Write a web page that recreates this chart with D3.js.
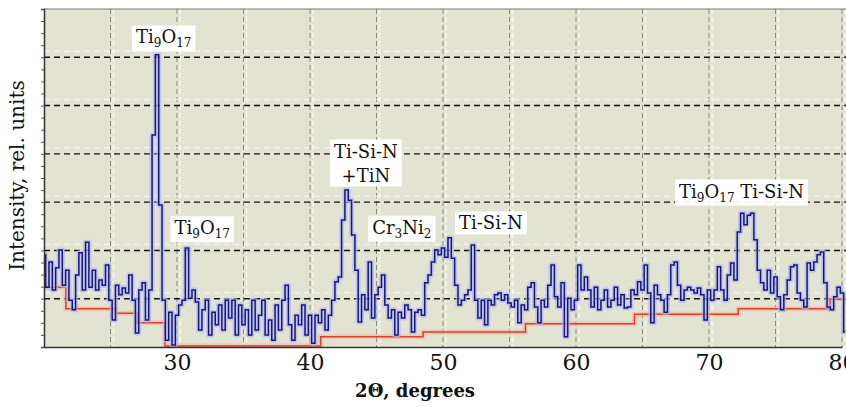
<!DOCTYPE html>
<html lang="en">
<head>
<meta charset="utf-8">
<title>XRD pattern</title>
<script src="https://cdn.jsdelivr.net/npm/d3@7"></script>
<style>
  body { margin: 0; background: #fff; }
  text { font-family: "DejaVu Serif", serif; fill: #111; }
</style>
</head>
<body>
<div id="chart"></div>
<script>
// scan: 2theta from 20 deg, step 0.25 deg
var angleStart = 20, angleStep = 0.25;
var intensity = [
  191, 124, 176, 118, 164, 201, 128, 159, 97, 77,
  149, 195, 118, 217, 124, 159, 118, 139, 128, 170,
  97, 56, 128, 108, 122, 112, 149, 97, 29, 118,
  133, 56, 118, 439, 605, 294, 97, 14, 72, 4,
  66, 87, 97, 205, 101, 118, 93, 35, 77, 97,
  25, 72, 46, 87, 35, 97, 60, 97, 25, 87,
  46, 77, 25, 97, 35, 66, 97, 25, 56, 14,
  87, 35, 97, 128, 46, 14, 66, 46, 87, 25,
  66, 8, 66, 50, 77, 35, 66, 97, 135, 145,
  263, 325, 304, 232, 159, 52, 108, 77, 176, 60,
  108, 124, 149, 87, 60, 77, 25, 72, 60, 87,
  77, 31, 72, 77, 66, 133, 149, 176, 201, 191,
  205, 186, 226, 184, 128, 87, 97, 108, 118, 211,
  97, 60, 97, 46, 97, 87, 108, 112, 97, 108,
  91, 83, 97, 50, 87, 77, 124, 133, 83, 50,
  97, 83, 128, 170, 104, 83, 133, 21, 101, 77,
  97, 170, 118, 145, 118, 83, 124, 77, 97, 118,
  83, 97, 124, 87, 108, 81, 83, 118, 108, 135,
  118, 170, 112, 50, 128, 108, 97, 72, 108, 170,
  176, 128, 97, 118, 124, 118, 112, 122, 108, 56,
  118, 97, 118, 166, 118, 97, 149, 174, 139, 238,
  277, 253, 273, 277, 222, 159, 133, 118, 159, 112,
  145, 104, 77, 108, 139, 166, 170, 112, 97, 83,
  174, 159, 176, 191, 197, 133, 83, 77, 104, 124,
  112, 31
];

// background (red) step level
var bgStart = [20, 21.65, 25.4, 27.0, 29.1, 40.8, 48.5, 56.2, 64.4, 72.2, 79.1, 80.6];
var bgLevel = [124, 79, 70, 50, 2, 21, 31, 48, 68, 79, 99, 99];

var xTicks = [30, 40, 50, 60, 70, 80];
var gridX = [25, 30, 35, 40, 45, 50, 55, 60, 65, 70, 75, 80];
var gridY = [100, 200, 300, 400, 500, 600];

// peak labels: [text, subscript] parts per line, anchored at (2theta, intensity)
var labelParts = [
  [[["Ti", 0], ["9", 1], ["O", 0], ["17", 1]]],
  [[["Ti", 0], ["9", 1], ["O", 0], ["17", 1]]],
  [[["Ti-Si-N", 0]], [["+TiN", 0]]],
  [[["Cr", 0], ["3", 1], ["Ni", 0], ["2", 1]]],
  [[["Ti-Si-N", 0]]],
  [[["Ti", 0], ["9", 1], ["O", 0], ["17", 1], [" Ti-Si-N", 0]]]
];
var labelAngle = [29.0, 31.9, 44.2, 46.9, 53.6, 72.45];
var labelLevel = [641, 246, 380, 247, 256, 322];

var W = 846, H = 407;
var margin = { top: 9, right: 0, bottom: 60, left: 44 };

var svg = d3.select("#chart").append("svg")
  .attr("width", W).attr("height", H);

var x = d3.scaleLinear().domain([20, 80]).range([margin.left, 842]);
var y = d3.scaleLinear().domain([0, 700]).range([H - margin.bottom, margin.top]);

var plotW = W - margin.left, plotH = y(0) - margin.top;

svg.append("defs").append("clipPath").attr("id", "plot")
  .append("rect").attr("x", margin.left).attr("y", margin.top)
  .attr("width", plotW).attr("height", plotH);

// plot background
svg.append("rect")
  .attr("x", margin.left).attr("y", margin.top)
  .attr("width", plotW).attr("height", plotH)
  .attr("fill", "#e2e3d1");

var grid = svg.append("g").attr("clip-path", "url(#plot)");

// vertical grid: grey dashes with a white twin
grid.selectAll(".vw").data(gridX).enter().append("line")
  .attr("x1", d => x(d) + 3).attr("x2", d => x(d) + 3)
  .attr("y1", margin.top).attr("y2", y(0))
  .attr("stroke", "#fafaf2").attr("stroke-width", 1.5)
  .attr("stroke-dasharray", "5,3");
grid.selectAll(".vg").data(gridX).enter().append("line")
  .attr("x1", d => x(d)).attr("x2", d => x(d))
  .attr("y1", margin.top).attr("y2", y(0))
  .attr("stroke", "#8a8a80").attr("stroke-width", 1)
  .attr("stroke-dasharray", "5,3");

// horizontal grid: black dashes with a white twin
grid.selectAll(".hw").data(gridY).enter().append("line")
  .attr("x1", margin.left).attr("x2", W)
  .attr("y1", d => y(d) - 6).attr("y2", d => y(d) - 6)
  .attr("stroke", "#fafaf2").attr("stroke-width", 1.5).attr("opacity", 0.7)
  .attr("stroke-dasharray", "6,4");
grid.selectAll(".hg").data(gridY).enter().append("line")
  .attr("x1", margin.left).attr("x2", W)
  .attr("y1", d => y(d)).attr("y2", d => y(d))
  .attr("stroke", "#111").attr("stroke-width", 1.4)
  .attr("stroke-dasharray", "6,4");

var series = intensity.map((v, i) => [angleStart + i * angleStep, v]);
var bg = bgStart.map((a, i) => [a, bgLevel[i]]);

var lineStep = d3.line().x(d => x(d[0])).y(d => y(d[1])).curve(d3.curveStep);
var bgLine = d3.line().x(d => x(d[0])).y(d => y(d[1])).curve(d3.curveStepAfter);

var traces = svg.append("g").attr("clip-path", "url(#plot)");

traces.append("path").datum(bg).attr("d", bgLine)
  .attr("fill", "none").attr("stroke", "#f3b4a4").attr("stroke-width", 5).attr("opacity", 0.6);
traces.append("path").datum(bg).attr("d", bgLine)
  .attr("fill", "none").attr("stroke", "#d8402c").attr("stroke-width", 1.5);

traces.append("path").datum(series).attr("d", lineStep)
  .attr("fill", "none").attr("stroke", "#b4b8f0").attr("stroke-width", 5)
  .attr("stroke-linejoin", "round").attr("opacity", 0.7);
traces.append("path").datum(series).attr("d", lineStep)
  .attr("fill", "none").attr("stroke", "#16167e").attr("stroke-width", 1.5);

// axes frame
svg.append("line").attr("x1", margin.left).attr("x2", W)
  .attr("y1", margin.top).attr("y2", margin.top)
  .attr("stroke", "#777").attr("stroke-width", 1);

var yAxis = svg.append("g")
  .attr("transform", "translate(" + margin.left + ",0)")
  .call(d3.axisLeft(y).tickValues(d3.range(0, 701, 25)).tickSize(3).tickFormat(""));
yAxis.select(".domain").attr("stroke", "#333").attr("stroke-width", 1.5);
yAxis.selectAll(".tick line").attr("stroke", "#555");

var xAxis = svg.append("g")
  .attr("transform", "translate(0," + y(0) + ")")
  .call(d3.axisBottom(x).tickValues(xTicks).tickSize(0).tickPadding(7).tickFormat(d3.format("d")));
xAxis.select(".domain").attr("stroke", "#333").attr("stroke-width", 1.5);
xAxis.selectAll(".tick text")
  .attr("font-family", "DejaVu Serif").attr("font-size", 22).attr("fill", "#333");

svg.append("text")
  .attr("x", x(47.9)).attr("y", 397)
  .attr("text-anchor", "middle")
  .attr("font-size", 18).attr("font-weight", "bold")
  .text("2\u0398, degrees");

svg.append("text")
  .attr("transform", "translate(24," + y(355) + ") rotate(-90)")
  .attr("text-anchor", "middle")
  .attr("font-size", 20)
  .text("Intensity, rel. units");

// peak labels in white boxes
var lineGap = 24;
labelParts.forEach(function (lines, k) {
  var g = svg.append("g");
  var cx = x(labelAngle[k]), cy = y(labelLevel[k]);
  var box = g.append("rect").attr("fill", "#fff").attr("opacity", 0.95);
  var t = g.append("text").attr("text-anchor", "middle").attr("font-size", 18);
  var top = cy - (lines.length - 1) * lineGap / 2;
  lines.forEach(function (parts, li) {
    var ln = t.append("tspan").attr("x", cx).attr("y", top + li * lineGap + 6);
    parts.forEach(function (p, i) {
      var dy = p[1] ? 4 : (i > 0 && parts[i - 1][1] ? -4 : 0);
      ln.append("tspan")
        .attr("font-size", p[1] ? 12 : 18)
        .attr("dy", dy)
        .text(p[0]);
    });
  });
  var bb = t.node().getBBox();
  box.attr("x", bb.x - 4).attr("y", bb.y - 1)
    .attr("width", bb.width + 8).attr("height", bb.height + 2);
});
</script>
</body>
</html>
